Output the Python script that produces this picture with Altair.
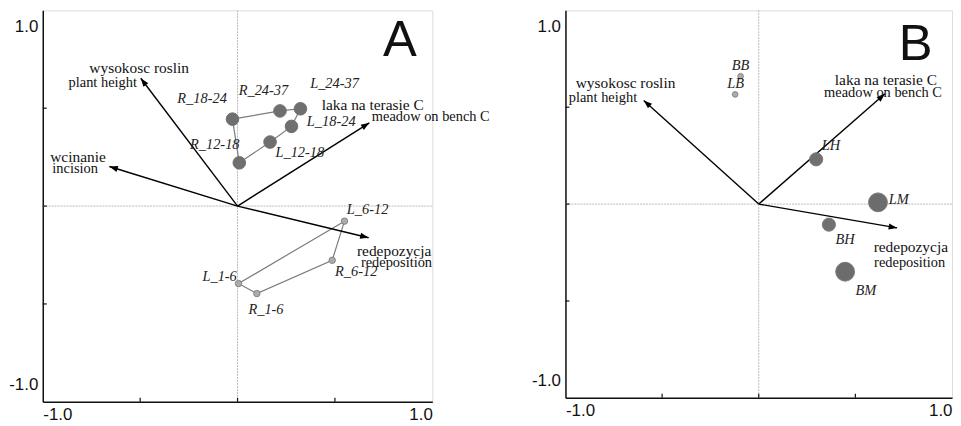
import math
import altair as alt
import pandas as pd

# ---------------- Panel A data ----------------
a_sites = ["R_18-24", "R_24-37", "L_24-37", "L_18-24", "L_12-18", "R_12-18",
           "L_6-12", "R_6-12", "R_1-6", "L_1-6"]
a_x = [-0.026, 0.218, 0.323, 0.277, 0.167, 0.009, 0.549, 0.486, 0.099, 0.005]
a_y = [0.444, 0.486, 0.497, 0.407, 0.327, 0.221, -0.077, -0.277, -0.447, -0.396]
a_class = ["big", "big", "big", "big", "big", "big", "small", "small", "small", "small"]
a_lab_x = [-0.182, 0.133, 0.498, 0.481, 0.320, -0.117, 0.668, 0.609, 0.146, -0.092]
a_lab_y = [0.547, 0.590, 0.621, 0.429, 0.272, 0.313, -0.019, -0.337, -0.529, -0.362]
a_rings = [["R_18-24", "R_24-37", "L_24-37", "L_18-24", "L_12-18", "R_12-18"],
           ["L_6-12", "R_6-12", "R_1-6", "L_1-6"]]

a_arrow_x = [-0.497, -0.658, 0.677, 0.673]
a_arrow_y = [0.653, 0.202, 0.425, -0.162]
a_text = ["wysokosc roslin", "plant height", "wcinanie", "incision",
          "laka na terasie C", "meadow on bench C", "redepozycja", "redeposition"]
a_text_x = [-0.505, -0.692, -0.819, -0.834, 0.694, 0.992, 0.804, 0.816]
a_text_y = [0.706, 0.629, 0.248, 0.190, 0.514, 0.454, -0.231, -0.291]
a_text_line = [1, 2, 1, 2, 1, 2, 1, 2]
a_letter = ("A", 0.834, 0.845)

# ---------------- Panel B data ----------------
b_sites = ["BB", "LB", "LH", "LM", "BH", "BM"]
b_x = [-0.094, -0.122, 0.297, 0.617, 0.363, 0.447]
b_y = [0.660, 0.566, 0.231, 0.009, -0.106, -0.349]
b_class = ["tiny", "tiny", "medium", "large", "medium", "large"]
b_lab_x = [-0.094, -0.120, 0.374, 0.725, 0.447, 0.554]
b_lab_y = [0.714, 0.621, 0.299, 0.022, -0.186, -0.448]

b_arrow_x = [-0.595, 0.653, 0.716]
b_arrow_y = [0.535, 0.569, -0.123]
b_text = ["wysokosc roslin", "plant height", "laka na terasie C", "meadow on bench C",
          "redepozycja", "redeposition"]
b_text_x = [-0.689, -0.806, 0.658, 0.643, 0.787, 0.781]
b_text_y = [0.626, 0.547, 0.641, 0.573, -0.222, -0.303]
b_text_line = [1, 2, 1, 2, 1, 2]
b_letter = ("B", 0.812, 0.822)

axis_values = [-1.0, 1.0]
tick_values = [-0.5, 0.0, 0.5]

# ---------------- styles ----------------
POINT_STYLE = {
    "big": {"size": 160, "fill": "#6f6f6f", "stroke": "#6f6f6f"},
    "small": {"size": 42, "fill": "#ababab", "stroke": "#858585"},
    "tiny": {"size": 32, "fill": "#ababab", "stroke": "#858585"},
    "medium": {"size": 175, "fill": "#707070", "stroke": "#7a7a7a"},
    "large": {"size": 360, "fill": "#6c6c6c", "stroke": "#7a7a7a"},
}
LINE_FONT = {1: 15.5, 2: 14.5}
HEAD = "M0,0L-0.36,1L0.36,1Z"
SC = alt.Scale(domain=[-1, 1], nice=False, zero=False)
LABEL_EXPR = "replace(format(datum.value, '.1f'), '\u2212', '-')"

AX_COMMON = dict(title=None, grid=False, ticks=False, values=axis_values, labelExpr=LABEL_EXPR,
                 labelFlush=True, labelFont="Liberation Sans", labelFontSize=17,
                 labelColor="#111", domainColor="#111", domainWidth=1.5)
AXX = alt.Axis(labelPadding=5, **AX_COMMON)
AXY = alt.Axis(labelPadding=5, labelFlushOffset=-8, **AX_COMMON)


def X(f):
    return alt.X(f, type="quantitative", scale=SC, axis=AXX)


def Y(f):
    return alt.Y(f, type="quantitative", scale=SC, axis=AXY)


def panel(sites, xs, ys, classes, lx, ly, rings, arx, ary, texts, tx, ty, tline, letter, W, H):
    zero = pd.DataFrame({"v": [0.0]})
    vline = alt.Chart(zero).mark_rule(color="#a8a8a8", strokeWidth=0.8, strokeDash=[2, 1]).encode(x=X("v"))
    hline = alt.Chart(zero).mark_rule(color="#a8a8a8", strokeWidth=0.8, strokeDash=[2, 1]).encode(y=Y("v"))

    tv = pd.DataFrame({"v": tick_values})
    xt = alt.Chart(tv).mark_rule(color="#111", strokeWidth=1.2).encode(
        x=X("v"), y=alt.value(H), y2=alt.value(H - 4))
    yt = alt.Chart(tv).mark_rule(color="#111", strokeWidth=1.2).encode(
        y=Y("v"), x=alt.value(0), x2=alt.value(4))

    layers = [vline, hline, xt, yt]

    pos = {s: (x, y) for s, x, y in zip(sites, xs, ys)}
    if rings:
        rows = []
        for ri, ring in enumerate(rings):
            for k, s in enumerate(ring + [ring[0]]):
                rows.append({"x": pos[s][0], "y": pos[s][1], "ring": ri, "ord": k})
        rdf = pd.DataFrame(rows)
        layers.append(alt.Chart(rdf).mark_line(color="#7c7c7c", strokeWidth=1.2).encode(
            x=X("x"), y=Y("y"), detail="ring:N", order="ord:Q"))

    adf = pd.DataFrame({"x0": [0.0] * len(arx), "y0": [0.0] * len(arx), "x": arx, "y": ary})
    adf["ang"] = [(math.degrees(math.atan2(a, b)) + 360) % 360 for a, b in zip(arx, ary)]
    layers.append(alt.Chart(adf).mark_rule(color="#000", strokeWidth=1.4).encode(
        x=X("x0"), y=Y("y0"), x2="x", y2="y"))
    layers.append(alt.Chart(adf).mark_point(shape=HEAD, filled=True, color="#000", opacity=1, size=290).encode(
        x=X("x"), y=Y("y"), angle=alt.Angle("ang:Q", scale=None)))

    pdf = pd.DataFrame({"name": sites, "x": xs, "y": ys, "lx": lx, "ly": ly,
                        "size": [POINT_STYLE[c]["size"] for c in classes],
                        "fill": [POINT_STYLE[c]["fill"] for c in classes],
                        "stroke": [POINT_STYLE[c]["stroke"] for c in classes]})
    layers.append(alt.Chart(pdf).mark_circle(opacity=1, strokeWidth=1).encode(
        x=X("x"), y=Y("y"),
        size=alt.Size("size:Q", scale=None),
        color=alt.Color("fill:N", scale=None),
        stroke=alt.Stroke("stroke:N", scale=None)))
    layers.append(alt.Chart(pdf).mark_text(font="Liberation Serif", fontStyle="italic", fontSize=14.5,
                                           color="#222", baseline="middle", align="center").encode(
        x=X("lx"), y=Y("ly"), text="name:N"))

    tdf = pd.DataFrame({"t": texts, "x": tx, "y": ty, "fs": [LINE_FONT[l] for l in tline]})
    layers.append(alt.Chart(tdf).mark_text(font="Liberation Serif", color="#111",
                                           baseline="middle", align="center").encode(
        x=X("x"), y=Y("y"), text="t:N", size=alt.Size("fs:Q", scale=None)))

    ldf = pd.DataFrame({"t": [letter[0]], "x": [letter[1]], "y": [letter[2]]})
    layers.append(alt.Chart(ldf).mark_text(font="Liberation Sans", fontSize=51, color="#111",
                                           baseline="middle", align="center").encode(
        x=X("x"), y=Y("y"), text="t:N"))

    return alt.layer(*layers).properties(width=W, height=H)


pa = panel(a_sites, a_x, a_y, a_class, a_lab_x, a_lab_y, a_rings, a_arrow_x, a_arrow_y,
           a_text, a_text_x, a_text_y, a_text_line, a_letter, 392, 394)
pb = panel(b_sites, b_x, b_y, b_class, b_lab_x, b_lab_y, None, b_arrow_x, b_arrow_y,
           b_text, b_text_x, b_text_y, b_text_line, b_letter, 389, 390)

chart = alt.hconcat(pa, pb, spacing=134, bounds="flush").properties(
    padding={"left": 0, "top": 0, "right": 0, "bottom": 0}
).configure_view(stroke="#222", strokeWidth=1.2).configure(background="white")

chart.save("out.html", embed_options={"renderer": "svg", "actions": False})
